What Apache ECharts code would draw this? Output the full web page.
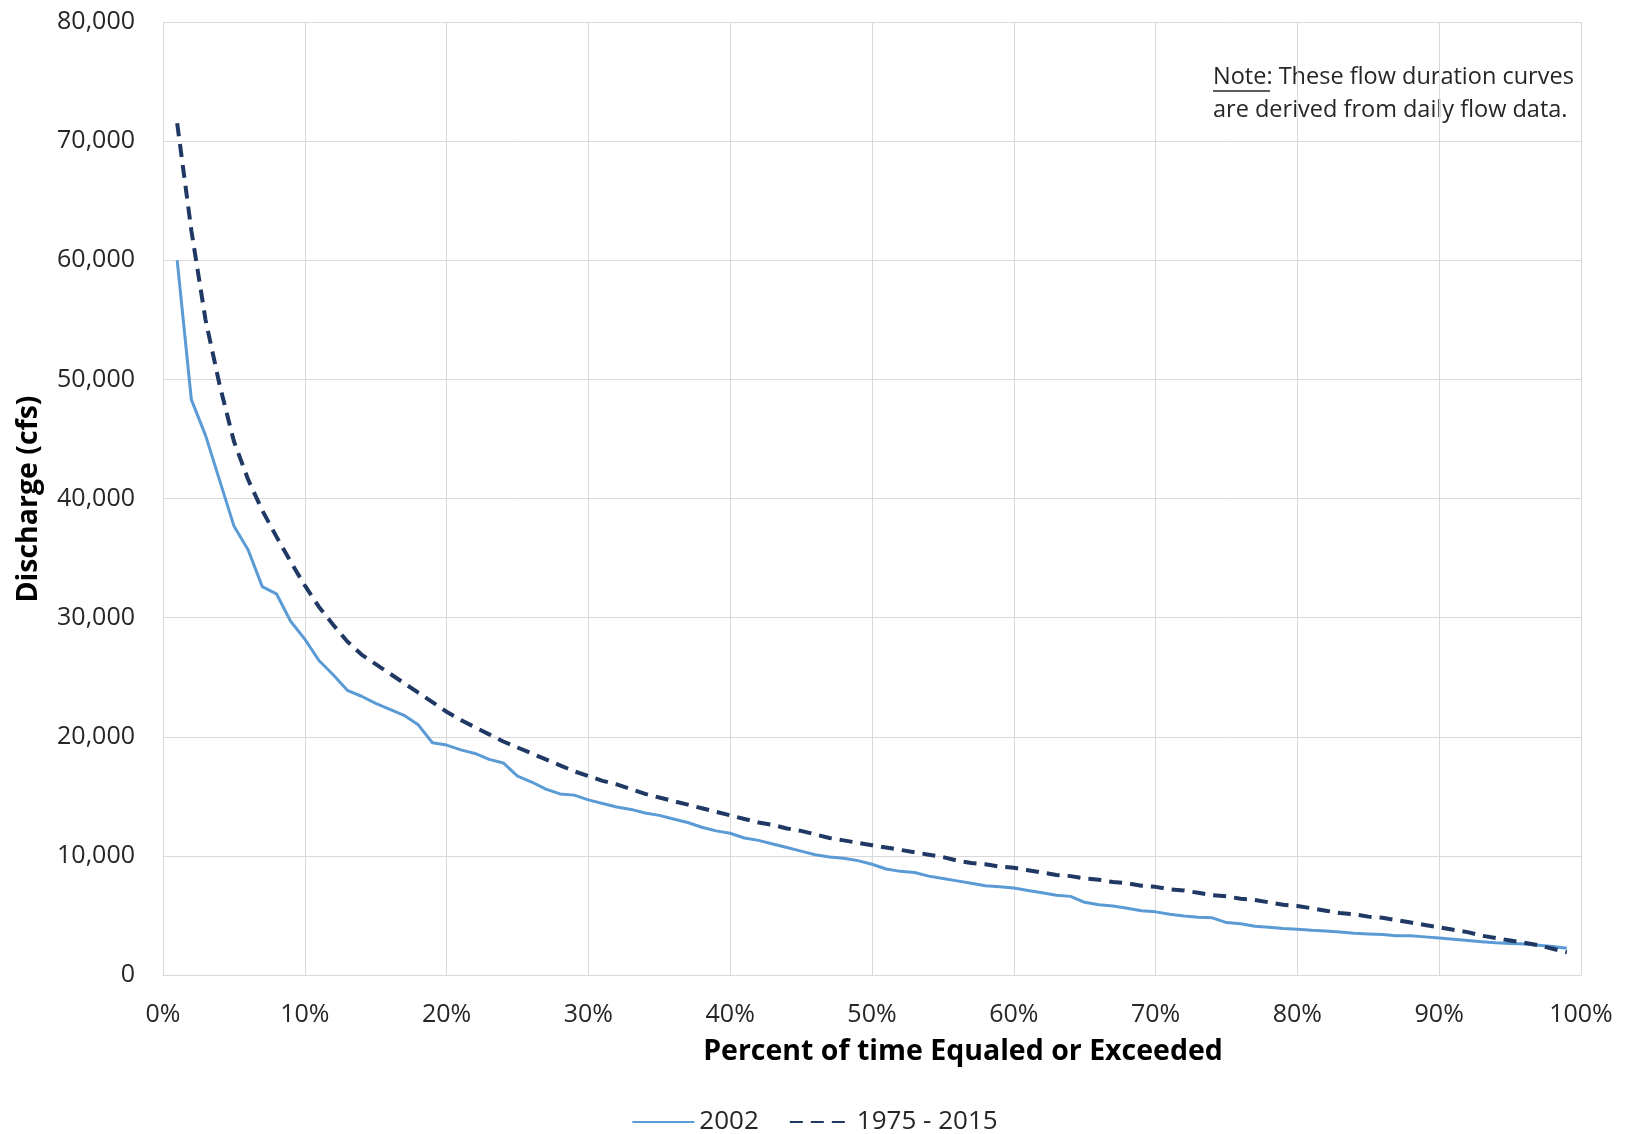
<!DOCTYPE html>
<html>
<head>
<meta charset="utf-8">
<script src="https://cdn.jsdelivr.net/npm/echarts@6/dist/echarts.min.js"></script>
<style>
    html, body { margin: 0; padding: 0; background: #fff; }
    #chart { width: 1629px; height: 1134px; }
</style>
</head>
<body>
<div id="chart"></div>
<script>
    // percent of time equaled or exceeded (1..99)
    var percents = [];
    for (var p = 1; p <= 99; p++) percents.push(p);

    // discharge, cfs - year 2002
    var flow2002 = [
        60000, 48300, 45300, 41500, 37700, 35700, 32600, 32000, 29700, 28200,
        26400, 25200, 23900, 23400, 22800, 22300, 21800, 21000, 19500, 19300,
        18900, 18600, 18100, 17800, 16700, 16200, 15600, 15200, 15100, 14700,
        14400, 14100, 13900, 13600, 13400, 13100, 12800, 12400, 12100, 11900,
        11500, 11300, 11000, 10700, 10400, 10100, 9900, 9800, 9600, 9300,
        8900, 8700, 8600, 8300, 8100, 7900, 7700, 7500, 7400, 7300,
        7100, 6900, 6700, 6600, 6100, 5900, 5800, 5600, 5400, 5300,
        5100, 4950, 4850, 4800, 4400, 4300, 4100, 4000, 3900, 3850,
        3750, 3700, 3600, 3500, 3450, 3400, 3300, 3300, 3200, 3100,
        3000, 2900, 2800, 2700, 2650, 2600, 2500, 2400, 2250
    ];

    // discharge, cfs - period 1975-2015
    var flowPeriod = [
        71500, 62500, 55000, 49500, 44800, 41600, 39000, 36800, 34700, 32700,
        30900, 29400, 28000, 26900, 26100, 25300, 24500, 23700, 22900, 22100,
        21400, 20800, 20200, 19600, 19100, 18600, 18100, 17600, 17100, 16700,
        16300, 16000, 15600, 15200, 14900, 14600, 14300, 14000, 13700, 13400,
        13100, 12800, 12600, 12300, 12100, 11800, 11500, 11300, 11100, 10900,
        10700, 10500, 10300, 10100, 9900, 9600, 9400, 9300, 9100, 9000,
        8800, 8600, 8400, 8300, 8100, 8000, 7800, 7700, 7500, 7400,
        7200, 7100, 6900, 6700, 6600, 6400, 6300, 6100, 5900, 5800,
        5600, 5400, 5200, 5100, 4900, 4800, 4600, 4400, 4200, 4000,
        3800, 3600, 3300, 3100, 2900, 2700, 2500, 2200, 1900
    ];

    var seriesNames = ['2002', '1975 - 2015'];

    function pairs(vals) {
        return percents.map(function (p, i) { return [p, vals[i]]; });
    }

    var font = "'Open Sans', 'Noto Sans', sans-serif";
    var myChart = echarts.init(document.getElementById('chart'));

    var option = {
        animation: false,
        backgroundColor: '#fff',
        textStyle: { fontFamily: font },
        grid: { left: 163, right: 48, top: 22, bottom: 159 },
        legend: {
            top: 1104,
            left: 'center',
            itemWidth: 62,
            itemHeight: 14,
            itemGap: 30,
            itemStyle: { opacity: 0 },
            data: seriesNames,
            textStyle: { fontFamily: font, fontSize: 26, color: '#262626' }
        },
        xAxis: {
            type: 'value',
            min: 0,
            max: 100,
            interval: 10,
            axisLine: { show: true, lineStyle: { color: '#d9d9d9', width: 1 } },
            axisTick: { show: false },
            splitLine: { show: true, lineStyle: { color: '#d9d9d9', width: 1 } },
            axisLabel: {
                formatter: '{value}%',
                fontSize: 25,
                color: '#262626',
                margin: 27
            }
        },
        yAxis: {
            type: 'value',
            min: 0,
            max: 80000,
            interval: 10000,
            axisLine: { show: true, lineStyle: { color: '#d9d9d9', width: 1 } },
            axisTick: { show: false },
            splitLine: { show: true, lineStyle: { color: '#d9d9d9', width: 1 } },
            axisLabel: {
                fontSize: 25,
                color: '#262626',
                margin: 28,
                formatter: function (v) { return v.toLocaleString('en-US'); }
            }
        },
        graphic: [
            {
                type: 'text',
                x: 963,
                y: 1052,
                style: {
                    text: 'Percent of time Equaled or Exceeded',
                    font: "bold 28.5px " + font,
                    fill: '#000',
                    align: 'center',
                    verticalAlign: 'middle'
                }
            },
            {
                type: 'text',
                x: 29,
                y: 499,
                rotation: Math.PI / 2,
                style: {
                    text: 'Discharge (cfs)',
                    font: "bold 28.5px " + font,
                    fill: '#000',
                    align: 'center',
                    verticalAlign: 'middle'
                }
            },
            {
                type: 'text',
                x: 1213,
                y: 61,
                style: {
                    text: 'Note: These flow duration curves\nare derived from daily flow data.',
                    font: "23.5px " + font,
                    lineHeight: 33,
                    fill: '#262626'
                }
            },
            {
                type: 'line',
                shape: { x1: 1213, y1: 91, x2: 1270, y2: 91 },
                style: { stroke: '#262626', lineWidth: 1.5 }
            }
        ],
        series: [
            {
                name: seriesNames[0],
                type: 'line',
                symbol: 'none',
                lineStyle: { color: '#5B9BD5', width: 3 },
                itemStyle: { color: '#5B9BD5' },
                data: pairs(flow2002)
            },
            {
                name: seriesNames[1],
                type: 'line',
                symbol: 'none',
                lineStyle: { color: '#1F3864', width: 4, type: [13, 8] },
                itemStyle: { color: '#1F3864' },
                data: pairs(flowPeriod)
            }
        ]
    };

    myChart.setOption(option);
</script>
</body>
</html>
